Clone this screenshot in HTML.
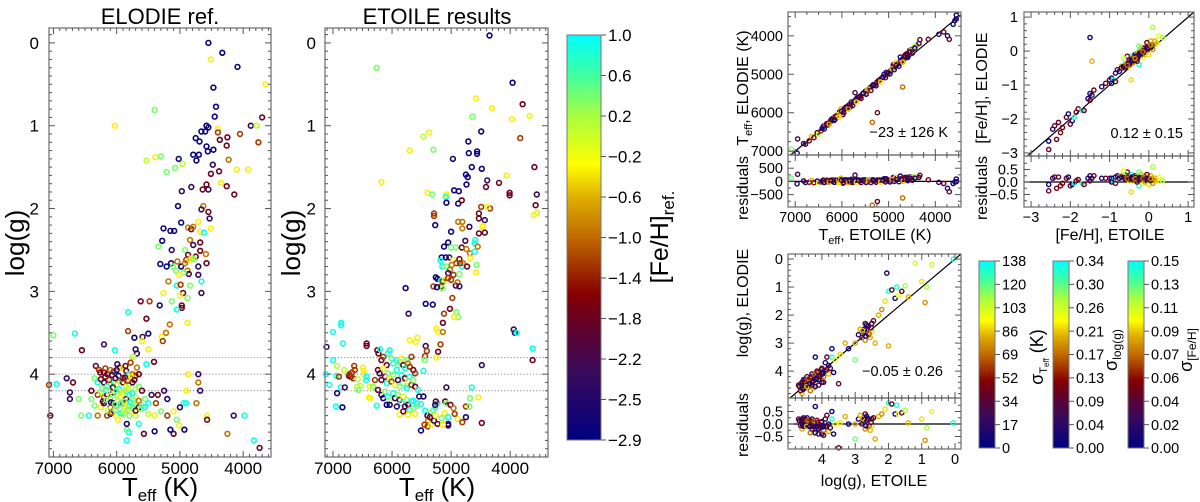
<!DOCTYPE html>
<html><head><meta charset="utf-8">
<style>
html,body{margin:0;padding:0;background:#fff;}
svg{display:block;font-family:"Liberation Sans",Arial,sans-serif;}
</style></head>
<body>
<svg id="fig" width="1200" height="502" viewBox="0 0 1200 502" xmlns="http://www.w3.org/2000/svg">
<defs>
<linearGradient id="cmap" x1="0" y1="1" x2="0" y2="0">
<stop offset="0" stop-color="#000080"/>
<stop offset="0.17" stop-color="#3a0a5a"/>
<stop offset="0.3" stop-color="#6a0020"/>
<stop offset="0.36" stop-color="#850000"/>
<stop offset="0.5" stop-color="#c06a00"/>
<stop offset="0.6" stop-color="#e0b000"/>
<stop offset="0.68" stop-color="#ffff00"/>
<stop offset="0.8" stop-color="#a8ff40"/>
<stop offset="0.9" stop-color="#40ffa0"/>
<stop offset="1" stop-color="#00ffff"/>
</linearGradient>
</defs>
</svg>
<script>
// ---------- Panel 1: ELODIE reference (Teff, log g, [Fe/H]) ----------
const teff1a = [4550,4330,4510,4090,3650,4470,4430,4450,5400,6030,3700,3880,3790,3760,4580,4660,4600,4550,4400,4400,4370,4250,4260,4050,4750,4690,4580,4560,4470,4790,4700,4740,4230,5530,5390,5300,5020,5080,4960,5210,4480,4510,4380,4100,3920,4350,4260,4140,4580,4550,4640,4820,4970,5030,4630,4660,4550,4530,4980,5260,5150,5090,4870,4820,4790,4710,4680,4510,4620,
5280,5340,5130,4920,4840,4790,4680,4680,4590,4870,4750,4810,4900,5310,5210,5140,5110,4980,4920,5040,4840,4780,4880,4860,4710,4710,4580,5060,4940,5010,4660,5180,5050,4990,4840,4660,4950,5000,4880,5130,5260,5320,4970,4970,5050,5620,5480,5820,5530,4880,5160,5220,5500,5820,5290,5270,5590,5720,5600,7000,6660,6200,6550,6030,5700,5680,5500,5740,5410,5530,4870,4710,6790,6690,6950,7070,6740,6740,7050,6600,6560,6440,6400,4680,4740,4900,4940,4710,4900,4150,3980,4570,4570,4250,3830,3740,5840,5810,5840,5570,5400,5100,5150,4930,5010,5050,5840,5980,
6330,6280,6200,6150,6100,6050,6000,5960,5900,5850,5800,5750,5700,5650,6350,6300,6250,6200,6150,6100,6050,6000,5950,5900,5850,5800,5750,5700,5650,5600,6400,6300,6250,6200,6150,6100,6050,6000,5950,5900,5850,5800,5750,5700,5650,5550,5450,5350,5250,5200,5500,5380,6350,6250,6200,6100,6000,5950,5900,5850,5800,5750,5700,5650,5600,6300,6100,6000,5900,5800,5700,5500,5400,5300,5200,5100,5000,5900,6050,5650,6150];
const teff1b = [6180,6120,6070,6020,5970,5920,5870,5820,5770,5720,6230,6170,6110,6060,6010,5960,5910,5860,5810,5760,6220,6160,6090,6030,5980,5930,5880,5830,5780,5730,6140,6080,6020,5940,5880,5820,5760,5700,5620,5560,6260,6180,5990,5860,5780,5680];
const logg1a = [0.0,0.12,0.2,0.29,0.5,0.54,0.77,0.89,0.81,1.0,0.9,1.0,1.0,1.2,1.0,1.07,1.07,1.02,1.04,1.08,1.17,1.14,1.24,1.1,1.15,1.19,1.25,1.31,1.29,1.35,1.35,1.42,1.41,1.42,1.38,1.37,1.4,1.51,1.46,1.56,1.47,1.58,1.55,1.53,1.53,1.69,1.73,1.83,1.71,1.77,1.77,1.74,1.79,1.97,1.97,2.01,2.04,2.12,2.17,2.24,2.27,2.27,2.23,2.25,2.22,2.16,2.28,2.24,2.29,
2.39,2.46,2.5,2.5,2.38,2.44,2.41,2.51,2.55,2.56,2.58,2.6,2.62,2.67,2.7,2.66,2.7,2.7,2.66,2.64,2.62,2.61,2.75,2.79,2.7,2.8,2.66,2.75,2.77,2.8,2.88,2.88,2.93,2.92,2.93,3.02,3.02,3.05,3.08,3.12,3.02,3.17,3.17,3.2,3.22,3.12,3.12,3.25,3.33,3.38,3.4,3.5,3.51,3.48,3.55,3.6,3.55,3.56,3.6,3.53,3.51,3.64,3.71,3.71,3.7,3.75,3.7,3.79,3.85,3.88,4.0,4.0,4.05,4.1,4.12,4.13,4.22,4.3,4.5,4.3,4.5,4.5,4.3,4.2,4.35,4.35,4.35,4.1,4.2,4.5,4.5,4.5,4.55,4.72,4.8,4.89,4.8,4.7,4.67,4.72,4.69,4.72,4.67,4.67,4.62,4.55,4.6,4.55,
3.9,3.95,3.98,4.0,3.95,3.97,3.95,3.92,3.93,3.96,4.0,4.0,4.02,4.0,4.05,4.1,4.06,4.1,4.15,4.12,4.1,4.13,4.08,4.1,4.15,4.12,4.1,4.18,4.15,4.2,4.2,4.25,4.22,4.28,4.25,4.3,4.22,4.25,4.28,4.22,4.3,4.25,4.3,4.28,4.32,4.3,4.25,4.25,4.2,4.3,4.35,4.35,4.38,4.4,4.35,4.4,4.38,4.42,4.35,4.4,4.38,4.4,4.45,4.4,4.38,4.5,4.48,4.5,4.48,4.5,4.5,4.48,4.5,4.45,4.5,4.45,4.4,4.05,4.35,4.6,4.5];
const logg1b = [4.03,4.07,4.01,4.05,4.02,4.06,4.04,4.08,4.03,4.07,4.17,4.19,4.21,4.16,4.2,4.18,4.22,4.2,4.17,4.23,4.33,4.31,4.34,4.36,4.32,4.35,4.33,4.37,4.34,4.36,4.44,4.46,4.43,4.47,4.45,4.43,4.46,4.44,4.42,4.4,3.98,3.93,3.88,3.9,3.86,3.92];
const feh1a = [-2.8,-2.8,-0.3,-2.8,-0.3,-2.8,-2.8,-2.8,0.4,-0.3,-1.7,-2.3,0.1,-1.2,-2.8,-2.8,-2.8,-2.8,-0.3,-1.2,-1.7,-1.7,-1.7,-1.2,-2.8,-2.8,-2.8,-2.8,-2.8,-2.8,-2.8,-2.8,-0.9,0.1,-0.3,0.4,-2.8,0.4,0.1,0.4,-2.3,-1.7,-1.7,-0.3,-0.3,-0.3,-1.7,-1.7,-1.7,-2.3,-1.7,-2.3,-2.3,-2.8,-0.9,-2.3,-1.7,-2.3,-2.8,-2.8,-2.8,-2.8,-0.9,-1.7,-0.9,-0.3,-0.3,-0.3,0.9,
-2.8,0.4,-2.3,0.4,-0.9,-2.3,-1.7,-1.7,-0.9,-1.7,-1.7,-0.3,-1.2,-2.8,-2.8,-2.8,0.4,-2.8,-0.9,-0.9,-0.3,0.4,-0.9,-2.3,-2.3,-2.3,-1.7,0.4,0.4,-0.3,0.9,-0.9,0.9,-1.2,0.4,-2.3,-1.7,-0.3,0.4,0.4,-0.3,-2.8,-1.7,-1.7,0.9,-1.7,-1.2,0.9,-1.7,-0.3,-0.9,-0.9,-2.8,-1.2,-0.3,-1.2,-2.3,-2.8,-0.3,0.4,0.9,-2.3,-1.7,0.9,-2.3,-2.3,-0.3,0.1,-1.7,0.9,-0.3,-2.3,-2.3,-1.7,0.9,-1.2,-2.3,-2.3,-1.7,0.4,0.4,0.9,0.4,-2.3,-0.9,0.9,0.9,-0.9,-0.3,-2.3,0.9,-0.3,-1.7,-0.9,0.9,-1.7,0.9,0.9,0.4,-1.7,-2.8,-1.7,-2.8,-2.8,-0.3,0.4,-2.8,-0.3,
-1.7,-1.2,-1.7,-1.7,-0.9,-1.2,-2.8,-1.2,-0.3,-1.7,0.9,-0.9,-1.2,-1.7,0.4,0.9,-1.7,-2.3,0.4,0.9,0.9,0.1,0.4,-1.7,-0.3,0.4,-2.3,0.1,0.4,-1.7,-1.7,-1.2,0.1,-0.9,-1.7,0.4,-2.3,0.4,-0.3,0.9,-1.7,0.9,0.4,0.1,-0.9,0.4,-2.3,-1.7,-2.3,-2.8,0.9,-1.2,0.4,-0.3,-2.3,-0.9,-1.7,0.4,-1.2,0.1,0.4,0.9,-0.3,-1.7,0.4,-0.9,-2.8,-0.3,0.4,0.4,0.1,0.1,-0.3,0.4,-1.2,-0.3,-2.3,-2.3,-2.8,0.9,-1.2];
const feh1b = [-1.7,-1.2,-2.3,-1.7,-2.8,-0.9,-1.7,-1.2,-0.3,-1.7,0.4,0.9,0.1,-1.7,0.4,0.9,-0.3,0.4,0.1,0.9,-1.7,0.4,-2.3,0.4,0.1,0.9,0.4,-0.3,0.9,0.4,0.1,-0.9,0.4,0.9,-0.3,0.4,0.1,-1.7,0.4,0.9,-1.7,-1.2,-2.3,-1.7,-1.2,-0.9];
const teff1 = teff1a.concat(teff1b), logg1 = logg1a.concat(logg1b), feh1 = feh1a.concat(feh1b);

// ---------- Panel 2: ETOILE results ----------
const teff2 = [4350,6260,3960,4580,4310,3790,4640,3970,3670,3830,4490,5470,5370,5300,5700,6180,4710,4700,4560,4560,4970,4650,4480,4750,4720,4740,4950,4870,4060,4390,4410,4190,4010,4010,3590,3550,3570,3550,3600,5400,5320,5080,5090,5080,4880,4820,4490,4340,4390,4530,4530,4430,5290,5290,4880,4810,4810,4460,4470,4690,5270,5000,4530,4430,4760,4590,4600,5120,5050,5000,4920,4820,4740,4680,4550,4600,5160,5090,5030,4960,4860,4910,4800,4680,4570,4580,5180,5150,5080,4990,5020,5050,4960,4860,4820,4850,4730,5260,5230,5170,5140,5100,4920,5000,4890,5050,5300,5170,5150,5240,4860,5770,4980,5430,5310,5120,5020,4910,4880,4950,5720,5140,5250,5220,5140,3940,3920,3890,5180,5220,5250,5430,5410,5440,5570,5600,5700,4480,5450,5470,3620,3620,5080,4650,4540,4680,4480,4750,4750,4690,4890,4810,
5470,5510,5440,5580,5640,5400,5360,5300,5270,5230,5260,5270,5100,5080,5010,4960,5390,5450,5400,5340,5510,5290,5230,5160,5050,5050,5140,5110,5050,4940,5360,5260,
7000,7120,6940,7060,7110,7000,6860,6860,6830,6930,6810,6900,6930,6870,6800,6950,6840,6730,6700,6660,6720,6680,6640,6630,6580,6590,6540,6570,6490,6480,6480,6430,6430,6430,6440,6380,6390,6370,6260,6320,6290,6250,6230,6200,
6180,6150,6090,6070,6040,6010,5980,5920,5900,5870,5840,5810,5780,5750,5730,5700,5670,5640,5610,6240,6210,6180,6150,6120,6090,6070,6040,6010,5980,5950,5920,5900,5870,5840,5810,5780,5750,5730,5700,5670,5640,5610,6240,6180,6150,6120,6070,6040,5980,5950,5900,5870,5840,5810,5780,5750,5730,5700,5670,5640,5610,5580,5560,5540,6090,6040,5920,5730,5870,5810];
const logg2 = [-0.09,0.3,0.48,0.67,0.79,0.74,0.89,0.92,0.88,1.15,1.07,1.13,1.08,1.29,1.3,1.68,1.19,1.33,1.31,1.34,1.4,1.5,1.52,1.59,1.62,1.71,1.78,1.79,1.6,1.66,1.74,1.69,1.81,1.84,1.5,1.83,1.96,2.05,2.08,1.81,1.83,1.83,1.86,1.93,1.94,1.9,1.98,2.0,1.98,2.06,2.12,2.14,2.06,2.09,2.16,2.16,2.24,2.21,2.22,2.22,2.2,2.28,2.3,2.29,2.39,2.38,2.42,2.46,2.41,2.47,2.47,2.47,2.49,2.54,2.46,2.52,2.59,2.59,2.59,2.62,2.61,2.66,2.66,2.6,2.68,2.77,2.63,2.7,2.7,2.68,2.74,2.78,2.8,2.79,2.7,2.66,2.7,2.83,2.85,2.87,2.88,2.86,2.93,2.86,2.89,2.84,2.94,2.94,2.96,2.95,2.94,2.96,3.08,3.15,3.16,3.27,3.21,3.25,3.31,3.31,3.27,3.38,3.45,3.49,3.49,3.46,3.5,3.5,3.64,3.73,3.8,3.66,3.72,3.78,3.56,3.61,3.59,3.89,3.83,3.96,3.69,3.83,4.16,4.16,4.28,4.29,4.59,4.39,4.52,4.39,4.54,4.58,
4.27,4.36,4.44,4.38,4.32,4.5,4.47,4.43,4.4,4.35,4.33,4.37,4.33,4.35,4.37,4.41,4.56,4.61,4.63,4.61,4.68,4.56,4.6,4.53,4.6,4.62,4.61,4.47,4.52,4.48,4.52,4.5,
3.83,4.0,4.02,4.13,3.67,3.49,3.38,3.41,3.63,3.9,3.95,4.03,4.23,4.16,4.16,4.39,4.4,4.02,4.03,4.05,4.0,3.98,3.9,3.95,4.06,4.15,4.14,4.19,3.92,3.96,4.0,3.63,3.66,4.03,4.07,4.15,4.28,4.29,4.38,4.15,4.07,3.71,3.75,3.7,
3.83,3.79,3.89,3.75,3.71,3.81,3.87,3.83,3.89,3.85,3.81,3.89,3.93,3.83,3.87,3.91,3.79,3.95,3.99,3.95,3.99,4.07,3.93,4.03,4.11,3.99,4.05,4.09,4.01,4.13,3.95,4.07,4.15,4.01,4.11,4.05,4.17,4.09,4.03,4.13,4.07,4.15,4.19,4.25,4.29,4.21,4.27,4.31,4.23,4.29,4.25,4.31,4.35,4.27,4.39,4.31,4.37,4.43,4.33,4.41,4.48,4.35,4.19,4.27,4.37,4.37,4.39,4.49,4.49,4.45];
const feh2 = [-2.8,0.4,-2.8,-0.3,-0.3,-1.7,0.4,-0.3,-0.3,-1.2,-2.8,0.1,-0.3,0.4,-0.3,-0.3,-2.8,-2.8,-2.8,-2.8,-2.8,-2.8,-2.8,-2.8,-2.8,-2.8,-2.8,-2.8,-0.3,-2.3,-1.7,-1.7,-1.7,-1.7,-1.7,-2.3,-1.7,0.1,-0.3,-0.3,0.4,-0.3,0.9,-2.8,-2.8,-1.7,-1.2,-1.2,-0.3,-1.7,-1.7,-2.3,-1.2,-1.2,-0.9,-0.9,-0.9,-0.3,-0.3,-2.3,-2.8,-2.8,-1.7,-1.7,-2.3,0.9,0.9,-2.8,-2.8,0.4,0.4,-1.7,-0.9,-0.9,-0.9,0.9,-2.8,-2.8,-2.3,-0.3,-1.7,-1.2,-0.9,-0.3,0.4,-0.3,0.9,0.9,0.4,-0.9,-0.9,-2.3,-1.2,0.4,0.9,-1.2,-1.7,-2.8,-2.8,0.9,-1.2,-0.3,-2.3,-1.2,-0.9,-1.2,-1.2,-1.2,0.4,-2.8,-2.3,-2.8,-1.2,-2.8,-2.8,-1.2,-1.7,0.4,0.4,-0.3,-2.3,-1.7,-0.3,-0.3,-0.9,-2.3,-2.3,0.9,-1.2,-1.7,-0.3,-2.3,-1.2,-1.2,-0.3,-0.3,-0.3,-2.3,0.4,0.9,0.9,-1.7,-2.3,0.9,-0.3,0.4,-1.7,-1.2,-2.8,0.4,-0.3,-1.2,
-2.8,0.9,0.9,0.4,0.9,-2.8,0.4,0.4,0.9,0.9,-1.7,-2.3,-1.7,0.4,-1.7,-0.9,-0.9,-1.2,-1.2,-0.3,-2.8,-2.3,-1.7,0.4,-2.8,-2.3,-0.3,-0.3,0.9,-1.2,-1.7,-0.3,
0.9,0.9,0.9,0.9,-2.3,0.9,0.9,0.9,0.9,0.1,0.1,-1.2,-2.8,0.9,-2.3,0.9,-2.8,-1.7,-1.7,-1.2,-1.2,-1.2,-1.2,-1.2,0.1,0.1,0.1,0.4,-0.3,-0.3,-0.3,-1.7,-1.7,0.9,0.9,-0.3,-0.3,-0.3,0.9,0.4,-1.2,-1.7,-1.7,0.9,
-1.7,-1.2,-1.7,0.9,0.9,0.4,0.9,0.9,0.4,0.9,-0.3,-1.7,0.9,0.4,-0.9,-1.2,-1.2,-1.7,-1.2,-1.7,-2.3,-1.7,-0.3,-1.7,0.9,0.4,-0.3,-1.2,0.4,-0.3,0.9,-2.3,0.4,0.9,0.4,-1.7,0.9,-0.3,0.9,-1.2,0.4,-1.7,-1.7,-2.3,-2.8,0.4,0.9,0.1,0.9,-2.3,0.4,-1.7,0.9,-0.3,-2.3,0.4,-1.7,0.9,0.9,0.4,-0.3,0.9,0.9,-2.3,-2.8,-2.8,-2.3,-0.3,-0.3,-1.7];

// ---------- Colour bar [Fe/H] ----------
const fehTicks = ["1.0","0.6","0.2","\u22120.2","\u22120.6","\u22121.0","\u22121.4","\u22121.8","\u22122.2","\u22122.5","\u22122.9"];

// ---------- Right panels: Teff comparison (ETOILE, ELODIE, colour 0-1) ----------
const tEtoileA = [7080,6960,6950,6820,6780,6700,6650,6600,6530,6500,6450,6420,6400,6350,6320,6300,6250,6220,6200,6150,6100,6080,6050,6000,6020,5980,5950,5900,5880,5850,5800,5780,5750,5720,5700,5680,5650,5600,5720,5550,5500,5450,5400,5350,5300,5250,5200,5150,5100,5050,5000,4950,4900,4850,4800,4750,4700,4650,4600,4550,4500,4450,4400,4350,4700,4700,5350,5240,3925,3740,3820,4330,4150,3700,3550,3580,3620,3550,6250,6150,6080,5900,5820,5620,5480,5050,4900,4850,4750,4650,4550,4450,4620,4530];
const tElodieA = [6950,7050,6680,6800,6820,6730,6620,6650,6520,6560,6470,6400,6350,6330,6280,6320,6250,6190,6150,6100,6060,6120,5980,5970,5900,6050,5900,5880,5830,5800,5720,5820,5730,5680,5650,5620,5600,5560,5480,5500,5440,5400,5350,5300,5280,5200,5150,5100,5000,5030,4950,4900,4800,4780,4720,4650,4600,4550,4500,4420,4350,4320,4250,4200,4700,5330,6250,6000,3960,4000,3900,4100,4090,4090,3460,3600,3700,3560,6220,6180,6050,5850,5850,5600,5500,4950,4750,4700,4550,4500,4380,4280,4470,4380];
const tColorA = [0.85,0.1,0.2,0.1,0.2,0.3,0.6,0.35,0.1,0.75,0.4,0.05,0.2,0.5,0.3,0.15,0.6,0.3,0.1,0.45,0.2,0.8,0.3,0.15,0.6,0.25,0.1,0.35,0.5,0.2,0.15,0.7,0.3,0.1,0.5,0.25,0.15,0.35,0.2,0.1,0.3,0.6,0.15,0.05,0.4,0.25,0.1,0.3,0.05,0.5,0.15,0.25,0.05,0.3,0.1,0.45,0.2,0.1,0.3,0.05,0.25,0.15,0.6,0.1,0.7,0.5,0.5,0.3,0.15,0.05,0.3,0.3,0.3,0.3,0.05,0.15,0.05,0.05,0.3,0.05,0.65,0.3,0.05,0.3,0.5,0.05,0.3,0.65,0.05,0.3,0.05,0.8,0.3,0.6];
const tEtoileB = [6380,6330,6270,6230,6170,6130,6060,6010,5960,5920,5860,5830,5770,5730,5690,5640,5590,5540,5480,5430,5380,5330,5270,5220,5170,5120,5070,5020,4970,4930,4880,4830,4780,4740,4690,4640,4590,4540,4490,4440];
const tElodieB = [6420,6290,6300,6180,6200,6090,6110,5960,6000,5860,5900,5780,5810,5700,5720,5590,5630,5490,5520,5380,5420,5270,5300,5170,5200,5070,5090,4970,4990,4860,4880,4760,4790,4650,4680,4540,4560,4420,4450,4320];
const tColorB = [0.05,0.3,0.6,0.2,0.05,0.3,0.65,0.1,0.3,0.05,0.6,0.2,0.3,0.05,0.65,0.1,0.3,0.05,0.2,0.6,0.3,0.05,0.1,0.3,0.65,0.05,0.2,0.3,0.05,0.6,0.1,0.3,0.05,0.2,0.6,0.3,0.05,0.1,0.3,0.05];
const tEtoile = tEtoileA.concat(tEtoileB), tElodie = tElodieA.concat(tElodieB), tColor = tColorA.concat(tColorB);

// ---------- Right panels: [Fe/H] comparison ----------
const fEtoileA = [-2.55,-2.55,-2.45,-2.4,-2.35,-2.3,-2.25,-2.2,-2.1,-2.05,-2.0,-1.95,-1.9,-1.85,-1.8,-1.7,-1.65,-1.55,-1.5,-1.5,-1.45,-1.4,-1.5,-1.45,-1.0,-0.95,-0.9,-0.85,-0.85,-0.8,-0.75,-0.7,-0.65,-0.6,-0.6,-0.55,-0.5,-0.5,-0.45,-0.45,-0.4,-0.4,-0.35,-0.35,-0.3,-0.3,-0.25,-0.25,-0.2,-0.2,-0.15,-0.15,-0.1,-0.1,-0.05,-0.05,0.0,0.0,0.05,0.05,0.1,0.1,0.15,0.2,0.25,0.35,-0.45,-0.7,-1.1,-0.95,-1.2,-0.55,-0.3,-0.65,-0.25,-0.05,-0.5,-0.42,-0.38,-0.32,-0.28,-0.22,-0.18,-0.12,-0.08,0.02,-0.48,-0.58,-0.35,-0.15,0.08,0.12];
const fElodieA = [-2.65,-2.9,-2.3,-2.2,-2.6,-2.1,-2.4,-2.25,-1.95,-1.85,-2.15,-2.05,-1.95,-1.8,-1.7,-1.75,-1.75,-1.4,-1.45,-1.25,-1.3,-1.15,0.4,-0.3,-0.85,-0.8,-0.85,-0.9,-0.65,-0.55,-0.6,-0.45,-0.45,-0.4,-0.3,-0.35,-0.3,-0.45,-0.25,-0.15,-0.2,-0.35,-0.1,-0.25,-0.05,-0.2,0.0,-0.4,-0.05,0.1,0.0,-0.2,0.1,-0.1,0.15,0.0,0.2,-0.1,0.1,0.3,0.05,0.7,0.2,0.25,0.45,0.4,-0.85,-0.5,-0.95,-0.95,-1.05,-0.15,-0.3,-0.2,0.15,0.25,-0.35,-0.25,-0.2,-0.15,-0.1,-0.05,-0.02,0.05,0.08,0.12,-0.4,-0.45,-0.25,0.05,0.15,0.2];
const fColorA = [0.05,0.3,0.1,0.25,0.3,0.3,0.35,0.3,0.3,0.05,0.3,0.05,0.95,0.3,0.3,0.95,0.3,0.05,0.3,0.05,0.1,0.3,0.05,0.6,0.2,0.05,0.95,0.35,0.1,0.2,0.05,0.6,0.1,0.8,0.95,0.6,0.05,0.7,0.2,0.95,0.1,0.6,0.05,0.3,0.6,0.1,0.85,0.95,0.05,0.6,0.3,0.7,0.05,0.6,0.55,0.1,0.7,0.65,0.05,0.6,0.55,0.8,0.6,0.65,0.7,0.8,0.65,0.2,0.3,0.05,0.1,0.35,0.3,0.7,0.85,0.3,0.05,0.05,0.5,0.05,0.55,0.05,0.5,0.05,0.3,0.05,0.5,0.3,0.05,0.55,0.05,0.6];
const fEtoileB = [-0.62,-0.57,-0.52,-0.47,-0.43,-0.37,-0.33,-0.27,-0.23,-0.17,-0.13,-0.07,-0.03,0.03,0.07,-0.6,-0.5,-0.4,-0.3,-0.2,-0.1,0.0,-0.55,-0.45,-0.35,-0.25,-0.15,-0.05,0.05,0.15];
const fElodieB = [-0.45,-0.4,-0.35,-0.3,-0.25,-0.2,-0.15,-0.1,-0.05,0.0,0.0,0.05,0.1,0.15,0.18,-0.5,-0.38,-0.28,-0.15,-0.08,0.02,0.1,-0.42,-0.3,-0.22,-0.12,-0.02,0.08,0.18,0.3];
const fColorB = [0.05,0.5,0.05,0.55,0.05,0.5,0.05,0.55,0.05,0.5,0.05,0.6,0.05,0.5,0.05,0.3,0.3,0.3,0.3,0.3,0.3,0.3,0.5,0.05,0.55,0.05,0.5,0.05,0.55,0.6];
const fEtoile = fEtoileA.concat(fEtoileB), fElodie = fElodieA.concat(fElodieB), fColor = fColorA.concat(fColorB);

// ---------- Right panels: log g comparison ----------
const gEtoileA = [4.7,4.65,4.6,4.55,4.5,4.5,4.45,4.4,4.4,4.35,4.3,4.3,4.25,4.2,4.2,4.15,4.1,4.1,4.05,4.0,4.0,3.95,3.9,3.9,3.85,3.8,3.8,3.75,3.7,3.7,3.65,3.6,3.5,3.45,3.3,3.2,3.0,3.0,2.9,2.85,2.8,2.75,2.7,2.7,2.65,2.6,2.6,2.55,2.5,2.5,2.45,2.4,2.3,2.2,2.1,2.0,2.0,1.9,1.8,1.75,1.7,1.6,1.5,1.4,1.2,1.0,0.9,0.7,0.85,2.05,0.05,4.6,4.3,4.5,4.6,4.35,4.2,4.1,4.0,3.95,4.45,4.55,4.25,4.15,3.85];
const gElodieA = [4.5,4.6,4.4,4.5,4.3,4.6,4.2,4.5,4.35,4.7,4.1,4.4,4.6,4.25,3.5,4.0,4.3,4.5,4.1,3.9,4.4,4.2,3.7,4.0,3.5,3.8,4.1,3.9,3.5,3.2,4.05,3.6,4.45,3.4,3.0,3.2,3.6,3.0,2.7,2.5,2.8,2.6,2.3,2.9,2.5,2.7,2.4,2.8,2.3,2.6,2.2,3.0,2.0,1.8,1.5,3.1,1.15,1.1,1.4,1.0,1.3,1.15,0.95,1.35,0.15,0.8,1.55,0.2,1.0,0.5,0.0,4.8,4.5,4.55,4.5,4.25,4.55,4.15,4.05,4.4,4.4,4.3,4.35,4.2,3.95];
const gColorA = [0.3,0.6,0.1,0.3,0.05,0.5,0.2,0.1,0.3,0.5,0.05,0.3,0.6,0.1,0.05,0.35,0.05,0.3,0.6,0.3,0.05,0.5,0.1,0.3,0.3,0.05,0.6,0.2,0.95,0.05,0.05,0.7,0.3,0.65,0.6,0.05,0.85,0.6,0.05,0.6,0.3,0.1,0.3,0.55,0.05,0.3,0.3,0.6,0.1,0.65,0.3,0.6,0.6,0.55,0.65,0.6,0.95,0.3,0.05,0.95,0.7,0.3,0.8,0.6,0.75,0.65,0.55,0.75,0.8,0.05,0.95,0.6,0.3,0.05,0.05,0.3,0.05,0.3,0.05,0.3,0.6,0.2,0.1,0.5,0.3];
const gEtoileB = [4.68,4.62,4.58,4.52,4.48,4.42,4.38,4.32,4.28,4.22,4.18,4.12,4.08,4.02,3.98,4.64,4.56,4.46,4.36,4.26,4.16,4.06,3.96,2.72,2.62,2.58,2.68,2.52,2.78,2.66];
const gElodieB = [4.55,4.45,4.62,4.38,4.52,4.28,4.46,4.2,4.38,4.12,4.3,4.05,4.2,3.95,4.1,4.7,4.65,4.55,4.45,4.35,4.25,4.2,4.05,2.5,2.4,2.65,2.75,2.45,2.55,2.35];
const gColorB = [0.05,0.3,0.05,0.3,0.05,0.5,0.05,0.3,0.05,0.5,0.05,0.3,0.05,0.3,0.05,0.3,0.05,0.6,0.05,0.3,0.05,0.3,0.05,0.05,0.3,0.5,0.05,0.3,0.6,0.05];
const gEtoile = gEtoileA.concat(gEtoileB), gElodie = gElodieA.concat(gElodieB), gColor = gColorA.concat(gColorB);

// ---------- Sigma colour bars ----------
const sigTeffTicks = ["138","120","103","86","69","52","34","17","0"];
const sigLoggTicks = ["0.34","0.30","0.26","0.21","0.17","0.13","0.09","0.04","0.00"];
const sigFehTicks = ["0.15","0.13","0.11","0.09","0.07","0.06","0.04","0.02","0.00"];

const NS = "http://www.w3.org/2000/svg";
const svg = document.getElementById('fig');
function mk(tag, attrs, parent){
  const e = document.createElementNS(NS, tag);
  for (const k in attrs) e.setAttribute(k, attrs[k]);
  (parent||svg).appendChild(e);
  return e;
}
const stops = [[0,[0,0,128]],[0.17,[58,10,90]],[0.3,[106,0,32]],[0.36,[133,0,0]],[0.5,[192,106,0]],[0.6,[224,176,0]],[0.68,[255,255,0]],[0.8,[168,255,64]],[0.9,[64,255,160]],[1,[0,255,255]]];
function cmap(v){
  v = Math.max(0, Math.min(1, v));
  for (let i=1;i<stops.length;i++){
    if (v <= stops[i][0]){
      const a = stops[i-1], b = stops[i];
      const t = (v-a[0])/(b[0]-a[0]);
      const c = a[1].map((x,j)=>Math.round(x+(b[1][j]-x)*t));
      return 'rgb('+c.join(',')+')';
    }
  }
  return 'rgb(0,255,255)';
}
function lin(d0,d1,r0,r1){ return v => r0 + (v-d0)/(d1-d0)*(r1-r0); }

function text(x,y,s,size,anchor,name,rot){
  const t = mk('text',{x:x,y:y,'font-size':size,'text-anchor':anchor||'middle',fill:'#000'});
  if (rot) t.setAttribute('transform','rotate(-90 '+x+' '+y+')');
  t.textContent = s;
  
  
  return t;
}

function frame(x0,y0,x1,y1,name){
  const r = mk('rect',{x:x0,y:y0,width:x1-x0,height:y1-y0,fill:'none',stroke:'#777','stroke-width':1.3});
  
  
}
function xTicks(sx,y0,y1,lo,hi,step,majorEvery,name){
  const g = mk('g',{stroke:'#555','stroke-width':1});
  
  
  const n0 = Math.ceil(lo/step), n1 = Math.floor(hi/step);
  for (let n=n0;n<=n1;n++){
    const v = n*step, x = sx(v);
    const major = Math.abs(v/majorEvery - Math.round(v/majorEvery))<1e-6;
    const L = major?6:3;
    mk('line',{x1:x,x2:x,y1:y1,y2:y1-L},g);
    mk('line',{x1:x,x2:x,y1:y0,y2:y0+L},g);
  }
}
function yTicks(sy,x0,x1,lo,hi,step,majorEvery,name){
  const g = mk('g',{stroke:'#555','stroke-width':1});
  
  
  const n0 = Math.ceil(lo/step), n1 = Math.floor(hi/step);
  for (let n=n0;n<=n1;n++){
    const v = n*step, y = sy(v);
    const major = Math.abs(v/majorEvery - Math.round(v/majorEvery))<1e-6;
    const L = major?6:3;
    mk('line',{x1:x0,x2:x0+L,y1:y,y2:y},g);
    mk('line',{x1:x1,x2:x1-L,y1:y,y2:y},g);
  }
}
function dots(xs,ys,cs,sx,sy,cf,x0,y0,x1,y1,name,r,sw){
  const g = mk('g',{fill:'none','stroke-width':sw||1.6});
  
  
  for (let i=0;i<xs.length;i++){
    const x = sx(xs[i]), y = sy(ys[i]);
    if (x<x0||x>x1||y<y0||y>y1) continue;
    const c = mk('circle',{cx:x.toFixed(1),cy:y.toFixed(1),r:r||2.4,stroke:cf(cs[i])},g);
    
    
  }
}
const fehV = f => cmap((f+2.9)/3.9);
const minus = s => String(s).replace('-','\u2212');

// ===== Panel 1 =====
(function(){
  const x0=49,x1=271,y0=28,y1=457;
  const sx = lin(7070,3560,x0,x1), sy = lin(-0.18,5.0,y0,y1);
  [3.8,4.0,4.2].forEach(v=>{
    const l = mk('line',{x1:x0,x2:x1,y1:sy(v),y2:sy(v),stroke:'#888','stroke-width':0.9,'stroke-dasharray':'1.2,2'});
    
    
  });
  dots(teff1,logg1,feh1,sx,sy,fehV,x0,y0,x1,y1,'elodie-points');
  frame(x0,y0,x1,y1,'elodie-plot-frame');
  xTicks(sx,y0,y1,3600,7000,100,1000,'elodie-x-ticks');
  yTicks(sy,x0,x1,-0.1,4.9,0.1,1,'elodie-y-ticks');
  [7000,6000,5000,4000].forEach(v=>text(sx(v),474,v,17,'middle','x-tick-label'));
  [0,1,2,3,4].forEach(v=>text(39,sy(v)+6,v,17,'end','y-tick-label'));
  text(160,24,'ELODIE ref.',22,'middle','elodie-title');
  const t = text(160,496,'',26,'middle','elodie-x-axis-title');
  t.innerHTML = 'T<tspan font-size="17" dy="5">eff</tspan><tspan dy="-5"> (K)</tspan>';
  text(24,243,'log(g)',26,'middle','elodie-y-axis-title',true);
})();

// ===== Panel 2 =====
(function(){
  const x0=325,x1=548,y0=28,y1=457;
  const sx = lin(7135,3360,x0,x1), sy = lin(-0.18,5.0,y0,y1);
  [3.8,4.0,4.2].forEach(v=>{
    const l = mk('line',{x1:x0,x2:x1,y1:sy(v),y2:sy(v),stroke:'#888','stroke-width':0.9,'stroke-dasharray':'1.2,2'});
    
    
  });
  dots(teff2,logg2,feh2,sx,sy,fehV,x0,y0,x1,y1,'etoile-points');
  frame(x0,y0,x1,y1,'etoile-plot-frame');
  xTicks(sx,y0,y1,3400,7100,100,1000,'etoile-x-ticks');
  yTicks(sy,x0,x1,-0.1,4.9,0.1,1,'etoile-y-ticks');
  [7000,6000,5000,4000].forEach(v=>text(sx(v),474,v,17,'middle','x-tick-label'));
  [0,1,2,3,4].forEach(v=>text(316,sy(v)+6,v,17,'end','y-tick-label'));
  text(437,24,'ETOILE results',22,'middle','etoile-title');
  const t = text(437,496,'',26,'middle','etoile-x-axis-title');
  t.innerHTML = 'T<tspan font-size="17" dy="5">eff</tspan><tspan dy="-5"> (K)</tspan>';
  text(300,243,'log(g)',26,'middle','etoile-y-axis-title',true);
})();

// ===== [Fe/H] colour bar =====
function colorbar(x0,x1,y0,y1,labels,lx,fs,name){
  const r = mk('rect',{x:x0,y:y0,width:x1-x0,height:y1-y0,fill:'url(#cmap)',stroke:'#777','stroke-width':1});
  
  
  const n = labels.length;
  labels.forEach((s,i)=>{
    const y = y0 + i*(y1-y0)/(n-1);
    mk('line',{x1:x1,x2:x1+5,y1:y,y2:y,stroke:'#555','stroke-width':1});
    text(lx,y+fs*0.36,s,fs,'start','colorbar-tick-label');
  });
}
colorbar(567,601,35,440,fehTicks,608,17,'feh-colorbar');
(function(){
  const t = text(668,237,'',25,'middle','feh-colorbar-title',true);
  t.innerHTML = '[Fe/H]<tspan font-size="17" dy="6">ref.</tspan>';
})();

// ===== Right panel: Teff =====
(function(){
  const x0=788,x1=961,y0=12,ym=155,y1=207;
  const sx = lin(7155,3450,x0,x1), sy = lin(3380,7100,y0,ym), sr = lin(1000,-970,ym,y1);
  const l = mk('line',{x1:sx(7100),y1:sy(7100),x2:sx(3450),y2:sy(3450),stroke:'#000','stroke-width':1.2});
   
  dots(tEtoile,tElodie,tColor,sx,sy,cmap,x0,y0,x1,ym,'teff-compare-points',2.1,1.4);
  const res = tEtoile.map((v,i)=>v-tElodie[i]);
  const z = mk('line',{x1:x0,x2:x1,y1:sr(0),y2:sr(0),stroke:'#000','stroke-width':1.3});
   
  dots(tEtoile,res,tColor,sx,sr,cmap,x0,ym,x1,y1,'teff-residual-points',2.1,1.4);
  frame(x0,y0,x1,ym,'teff-compare-frame'); frame(x0,ym,x1,y1,'teff-residual-frame');
  xTicks(sx,y0,ym,3500,7100,250,1000,'teff-x-ticks');
  xTicks(sx,ym,y1,3500,7100,250,1000,'teff-res-x-ticks');
  yTicks(sy,x0,x1,3500,7000,250,1000,'teff-y-ticks');
  yTicks(sr,x0,x1,-750,750,250,500,'teff-res-y-ticks');
  [7000,6000,5000,4000].forEach(v=>text(sx(v),222,v,14.5,'middle','x-tick-label'));
  [4000,5000,6000,7000].forEach(v=>text(783,sy(v)+5,v,14.5,'end','y-tick-label'));
  [500,0,-500].forEach(v=>text(783,sr(v)+5,minus(v),14.5,'end','residual-tick-label'));
  text(948,137,'\u221223 \u00b1 126  K',14.5,'end','teff-annotation');
  const xt = text(875,240,'',16,'middle','teff-x-axis-title');
  xt.innerHTML = 'T<tspan font-size="11" dy="4">eff</tspan><tspan dy="-4">, ETOILE (K)</tspan>';
  const yt = text(748,88,'',16,'middle','teff-y-axis-title',true);
  yt.innerHTML = 'T<tspan font-size="11" dy="4">eff</tspan><tspan dy="-4">, ELODIE (K)</tspan>';
  text(748,188,'residuals',16,'middle','residuals-label',true);
})();

// ===== Right panel: [Fe/H] =====
(function(){
  const x0=1024,x1=1194,y0=12,ym=156,y1=207;
  const sx = lin(-3.18,1.15,x0,x1), sy = lin(1.15,-3.09,y0,ym), sr = lin(1.04,-1.0,ym,y1);
  const l = mk('line',{x1:sx(-3.09),y1:sy(-3.09),x2:sx(1.15),y2:sy(1.15),stroke:'#000','stroke-width':1.2});
   
  dots(fEtoile,fElodie,fColor,sx,sy,cmap,x0,y0,x1,ym,'feh-compare-points',2.1,1.4);
  const res = fElodie.map((v,i)=>v-fEtoile[i]);
  const z = mk('line',{x1:x0,x2:x1,y1:sr(0),y2:sr(0),stroke:'#000','stroke-width':1.3});
   
  dots(fEtoile,res,fColor,sx,sr,cmap,x0,ym,x1,y1,'feh-residual-points',2.1,1.4);
  frame(x0,y0,x1,ym,'feh-compare-frame'); frame(x0,ym,x1,y1,'feh-residual-frame');
  xTicks(sx,y0,ym,-3.1,1.1,0.2,1,'feh-x-ticks');
  xTicks(sx,ym,y1,-3.1,1.1,0.2,1,'feh-res-x-ticks');
  yTicks(sy,x0,x1,-3.0,1.1,0.2,1,'feh-y-ticks');
  yTicks(sr,x0,x1,-0.75,0.75,0.25,0.5,'feh-res-y-ticks');
  [-3,-2,-1,0,1].forEach(v=>text(sx(v),222,minus(v),14.5,'middle','x-tick-label'));
  [1,0,-1,-2,-3].forEach(v=>text(1018,sy(v)+5,minus(v),14.5,'end','y-tick-label'));
  [['0.5',0.5],['0.0',0],['\u22120.5',-0.5]].forEach(p=>text(1018,sr(p[1])+5,p[0],14.5,'end','residual-tick-label'));
  text(1183,138,'0.12 \u00b1 0.15',14.5,'end','feh-annotation');
  text(1110,240,'[Fe/H], ETOILE',16,'middle','feh-x-axis-title');
  text(987,88,'[Fe/H], ELODIE',16,'middle','feh-y-axis-title',true);
  text(987,188,'residuals',16,'middle','residuals-label',true);
})();

// ===== Right panel: log g =====
(function(){
  const x0=788,x1=961,y0=254,ym=398,y1=449;
  const sx = lin(5.02,-0.18,x0,x1), sy = lin(-0.18,4.96,y0,ym), sr = lin(1.04,-1.0,ym,y1);
  const l = mk('line',{x1:sx(4.96),y1:sy(4.96),x2:sx(-0.18),y2:sy(-0.18),stroke:'#000','stroke-width':1.2});
   
  dots(gEtoile,gElodie,gColor,sx,sy,cmap,x0,y0,x1,ym,'logg-compare-points',2.1,1.4);
  const res = gEtoile.map((v,i)=>v-gElodie[i]);
  const z = mk('line',{x1:x0,x2:x1,y1:sr(0),y2:sr(0),stroke:'#000','stroke-width':1.3});
   
  dots(gEtoile,res,gColor,sx,sr,cmap,x0,ym,x1,y1,'logg-residual-points',2.1,1.4);
  frame(x0,y0,x1,ym,'logg-compare-frame'); frame(x0,ym,x1,y1,'logg-residual-frame');
  xTicks(sx,y0,ym,-0.1,4.9,0.2,1,'logg-x-ticks');
  xTicks(sx,ym,y1,-0.1,4.9,0.2,1,'logg-res-x-ticks');
  yTicks(sy,x0,x1,-0.1,4.9,0.2,1,'logg-y-ticks');
  yTicks(sr,x0,x1,-0.75,0.75,0.25,0.5,'logg-res-y-ticks');
  [4,3,2,1,0].forEach(v=>text(sx(v),464,v,14.5,'middle','x-tick-label'));
  [0,1,2,3,4].forEach(v=>text(783,sy(v)+5,v,14.5,'end','y-tick-label'));
  [['0.5',0.5],['0.0',0],['\u22120.5',-0.5]].forEach(p=>text(783,sr(p[1])+5,p[0],14.5,'end','residual-tick-label'));
  text(943,376,'\u22120.05 \u00b1 0.26',14.5,'end','logg-annotation');
  text(874,486,'log(g), ETOILE',16,'middle','logg-x-axis-title');
  text(748,303,'log(g), ELODIE',16,'middle','logg-y-axis-title',true);
  text(748,425,'residuals',16,'middle','residuals-label',true);
})();

// ===== Sigma colour bars =====
colorbar(979,995,261,448,sigTeffTicks,1002,14.5,'sigma-teff-colorbar');
colorbar(1053,1069,261,448,sigLoggTicks,1076,14.5,'sigma-logg-colorbar');
colorbar(1128,1144,261,448,sigFehTicks,1151,14.5,'sigma-feh-colorbar');
(function(){
  const a = text(1043,357,'',18,'middle','sigma-teff-title',true);
  a.innerHTML = '\u03c3<tspan font-size="11" dy="4">T</tspan><tspan font-size="8" dy="2">eff</tspan><tspan dy="-6"> (K)</tspan>';
  const b = text(1117,350,'',18,'middle','sigma-logg-title',true);
  b.innerHTML = '\u03c3<tspan font-size="12" dy="4">log(g)</tspan>';
  const c = text(1192,350,'',18,'middle','sigma-feh-title',true);
  c.innerHTML = '\u03c3<tspan font-size="12" dy="4">[Fe/H]</tspan>';
})();
</script>
</body></html>
